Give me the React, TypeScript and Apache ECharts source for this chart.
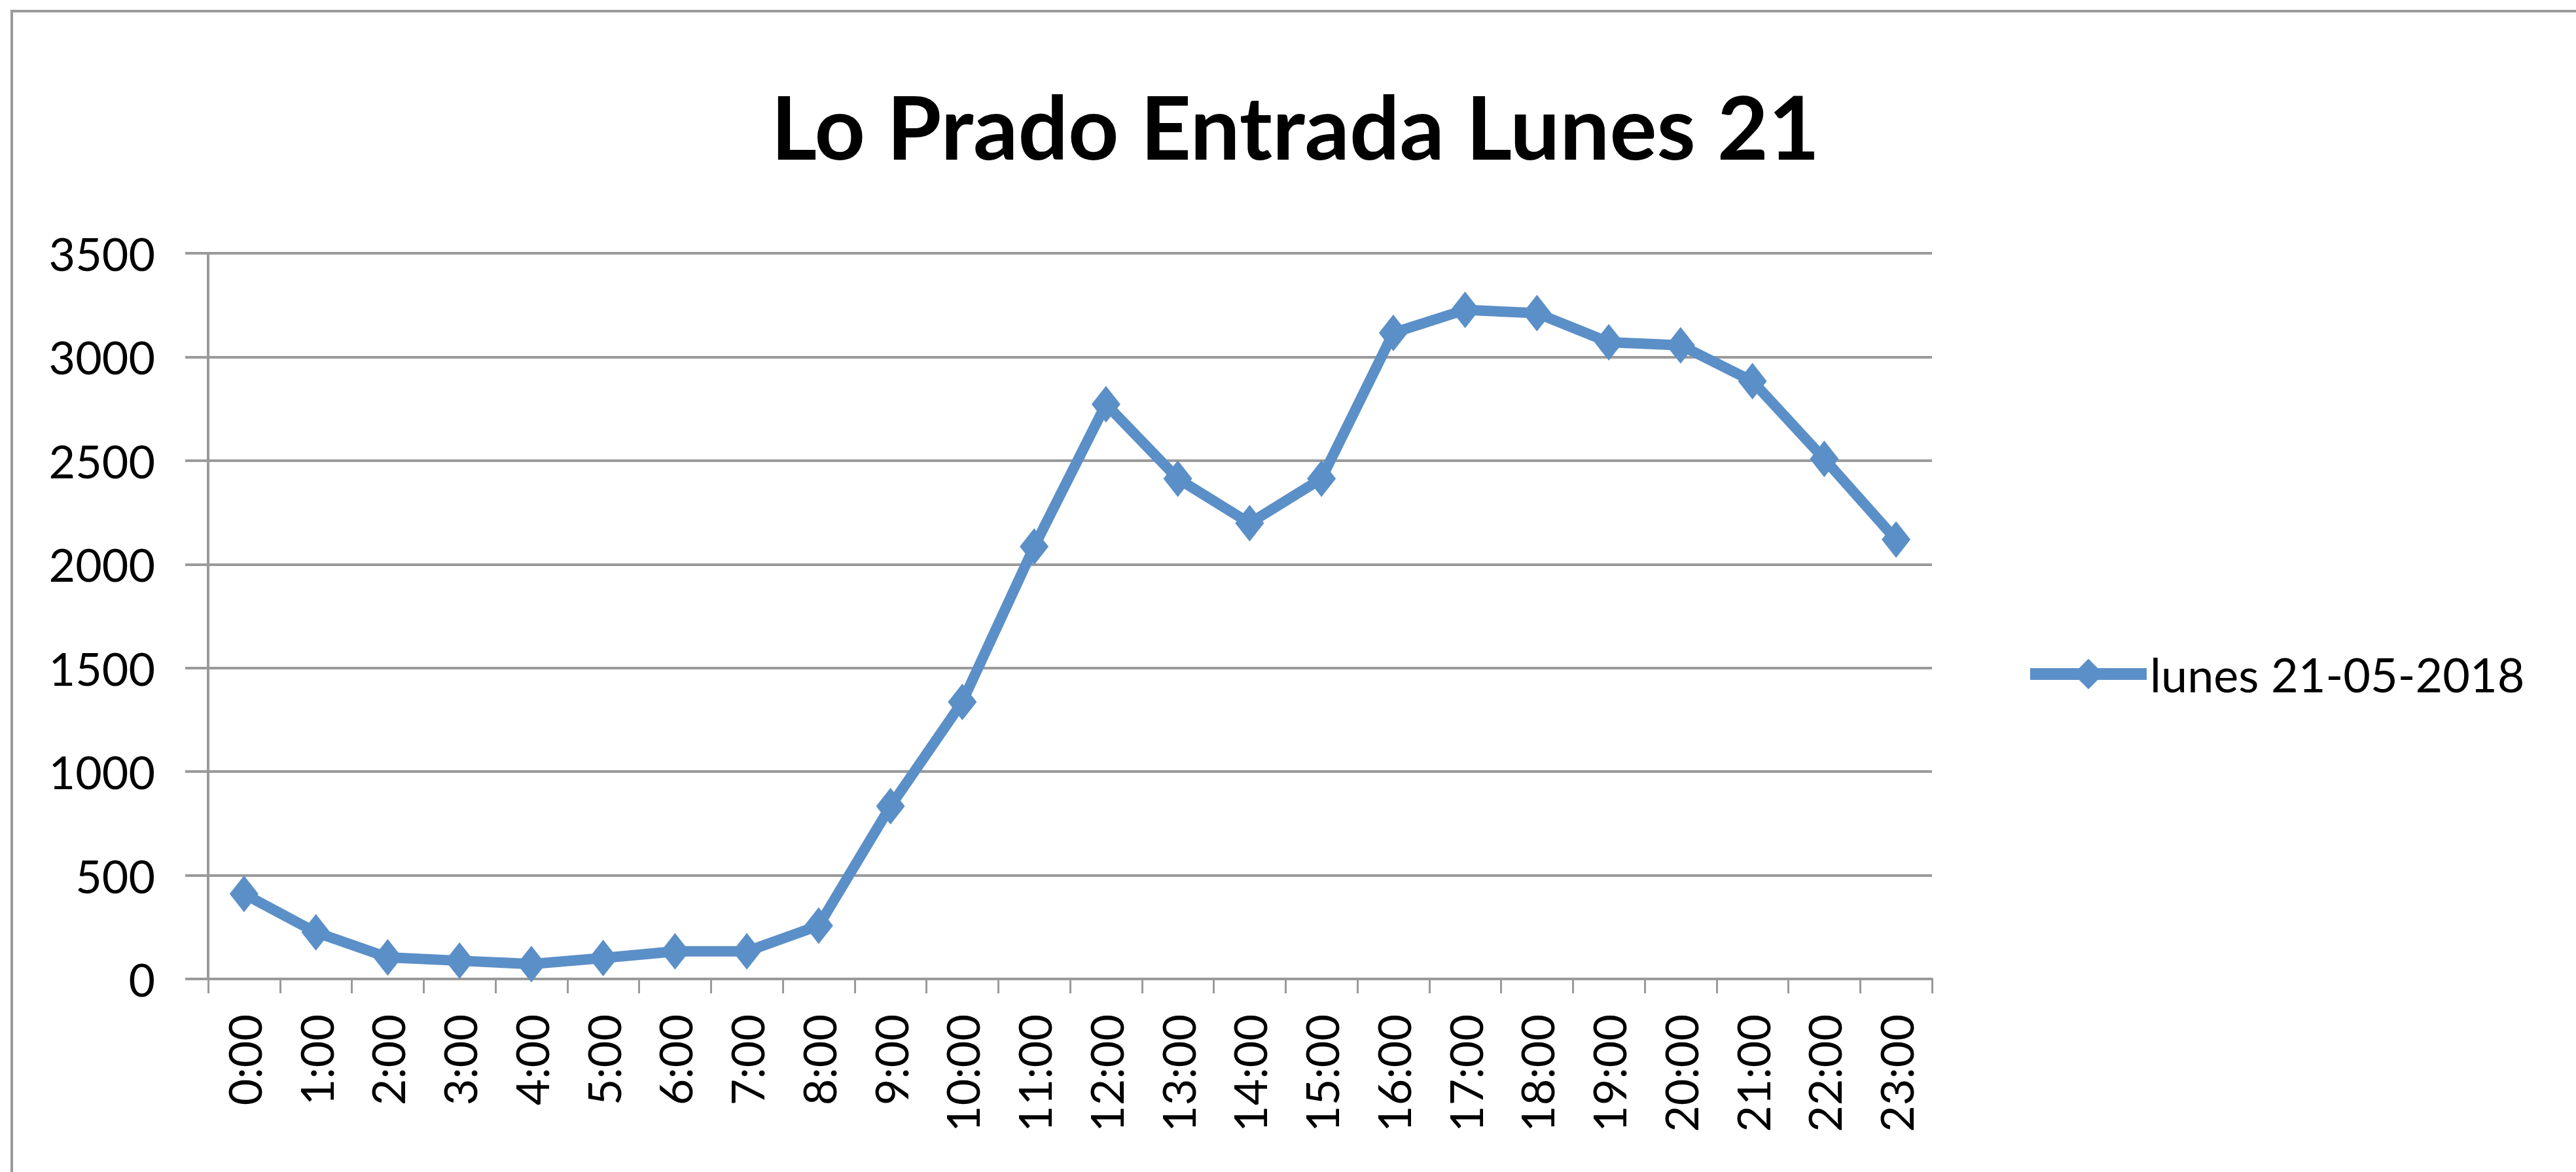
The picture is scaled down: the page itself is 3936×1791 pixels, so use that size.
import React, { useEffect, useRef } from "react";
import * as echarts from "echarts";

const chartTitle = "Lo Prado Entrada Lunes 21";
const seriesName = "lunes 21-05-2018";
const hourLabels = [
  "0:00", "1:00", "2:00", "3:00", "4:00", "5:00", "6:00", "7:00",
  "8:00", "9:00", "10:00", "11:00", "12:00", "13:00", "14:00", "15:00",
  "16:00", "17:00", "18:00", "19:00", "20:00", "21:00", "22:00", "23:00",
];
const entryValues = [
  410, 225, 104, 88, 72, 101, 133, 133,
  257, 833, 1336, 2085, 2772, 2413, 2198, 2413,
  3116, 3227, 3211, 3071, 3056, 2883, 2508, 2119,
];
const yMin = 0;
const yMax = 3500;
const yStep = 500;

const FONT = "Lato";
const GRID_GREY = "#9a9a9a";
const LINE_BLUE = "#5b8fc7";

export default function App() {
  const ref = useRef<HTMLDivElement>(null);

  useEffect(() => {
    document.body.style.margin = "0";
    const chart = echarts.init(ref.current!, null, { renderer: "svg" });
    chart.setOption({
      animation: false,
      backgroundColor: "#ffffff",
      textStyle: { fontFamily: FONT },
      title: {
        text: chartTitle,
        left: 1178,
        top: 124,
        padding: 0,
        textStyle: {
          fontFamily: FONT,
          fontWeight: "bold",
          fontSize: 135,
          color: "#000000",
        },
      },
      legend: {
        left: 3093,
        top: 994,
        padding: 0,
        itemWidth: 178,
        itemHeight: 58,
        lineStyle: { width: 18 },
        textStyle: { fontFamily: FONT, fontSize: 72, color: "#000000" },
        data: [seriesName],
      },
      graphic: [
        {
          type: "rect",
          shape: { x: 18, y: 17, width: 4100, height: 2100 },
          style: { fill: "none", stroke: GRID_GREY, lineWidth: 4 },
          silent: true,
        },
      ],
      grid: {
        left: 318,
        right: 3936 - 2952,
        top: 387,
        bottom: 1791 - 1496,
        containLabel: false,
        outerBoundsMode: "none",
      },
      xAxis: {
        type: "category",
        data: hourLabels,
        boundaryGap: true,
        axisLine: { show: true, lineStyle: { color: GRID_GREY, width: 4 } },
        axisTick: {
          show: true,
          interval: 0,
          length: 22,
          lineStyle: { color: GRID_GREY, width: 3 },
        },
        axisLabel: {
          interval: 0,
          rotate: 90,
          margin: 54,
          fontFamily: FONT,
          fontSize: 70,
          color: "#000000",
        },
        splitLine: { show: false },
      },
      yAxis: {
        type: "value",
        min: yMin,
        max: yMax,
        interval: yStep,
        axisLine: { show: true, lineStyle: { color: GRID_GREY, width: 4 } },
        axisTick: {
          show: true,
          length: 35,
          lineStyle: { color: GRID_GREY, width: 4 },
        },
        axisLabel: {
          margin: 81,
          fontFamily: FONT,
          fontSize: 70,
          color: "#000000",
          formatter: (v: number) => String(v),
        },
        splitLine: { show: true, lineStyle: { color: GRID_GREY, width: 4 } },
      },
      series: [
        {
          name: seriesName,
          type: "line",
          data: entryValues,
          symbol: "diamond",
          symbolSize: [44, 56],
          showSymbol: true,
          lineStyle: { color: LINE_BLUE, width: 16 },
          itemStyle: { color: LINE_BLUE },
        },
      ],
    });
    return () => chart.dispose();
  }, []);

  return (
    <div
      ref={ref}
      style={{ position: "absolute", left: 0, top: 0, width: 3936, height: 1791 }}
    />
  );
}
